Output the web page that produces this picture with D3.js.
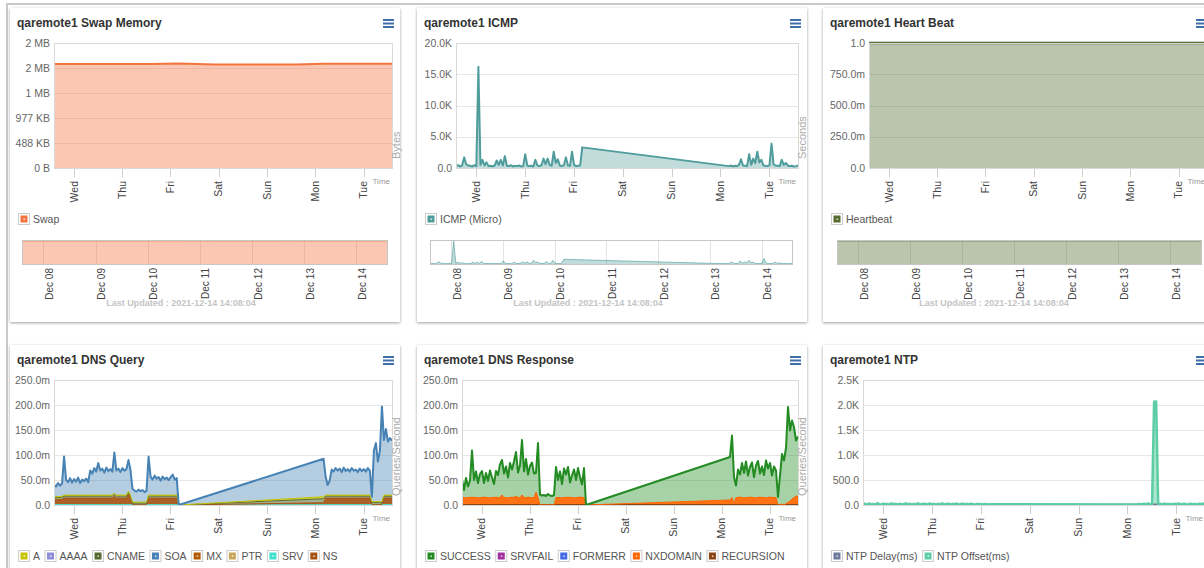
<!DOCTYPE html>
<html>
<head>
<meta charset="utf-8">
<script src="https://cdn.jsdelivr.net/npm/d3@7"></script>
<style>
  body { margin: 0; background: #fff; }
  svg { display: block; font-family: "Liberation Sans", Arial, sans-serif; }
  .title { font-size: 12px; font-weight: bold; fill: #333; }
  .ylab { font-size: 10.5px; fill: #666; }
  .xlab { font-size: 10.5px; fill: #444; }
  .navlab { font-size: 10px; fill: #444; }
  .legend { font-size: 10.5px; fill: #555; }
  .axtitle { font-size: 11px; fill: #aaa; }
  .timelab { font-size: 8px; fill: #999; }
  .updated { font-size: 9px; font-weight: bold; fill: #c4c4c4; }
</style>
</head>
<body>
<script>
var width = 1204, height = 568;

// every chart shows the last week up to the last update
var startTime = new Date(2021, 11, 7, 14, 8, 4),
    endTime = new Date(2021, 11, 14, 14, 8, 4);

// sample times in hours after startTime (data is missing between Fri 04:00 and Mon 04:00)
var sampleHours = [
  0, 1, 2, 3, 4, 5, 6, 7, 8, 9,
  10, 11, 12, 13, 14, 15, 16, 17, 18, 19,
  20, 21, 22, 23, 24, 25, 26, 27, 28, 29,
  30, 31, 32, 33, 34, 35, 36, 37, 38, 39,
  40, 41, 42, 43, 44, 45, 46, 47, 48, 49,
  50, 51, 52, 53, 54, 55, 56, 57, 58, 59,
  60, 61, 62, 134, 135, 136, 137, 138, 139, 140,
  141, 142, 143, 144, 145, 146, 147, 148, 149, 150,
  151, 152, 153, 154, 155, 156, 157, 158, 159, 160,
  161, 162, 163, 164, 165, 166, 167, 168
];

// swap memory (bytes)
var swapHours = [0, 24, 48, 62, 80, 100, 120, 134, 150, 168];
var swapValues = [2080000, 2081000, 2079000, 2090000, 2072000, 2071000, 2072000, 2084000, 2085000, 2084000];

// heart beat
var hbHours = [0, 24, 48, 62, 134, 168];
var hbValues = [1, 1, 1, 1, 1, 1];

// ICMP (micro seconds)
var icmpValues = [
  300, 450, 250, 400, 1700, 600, 400, 350, 250, 450,
  300, 16200, 500, 1300, 400, 900, 300, 350, 250, 400,
  1200, 500, 1300, 400, 1900, 350, 300, 450, 250, 350,
  300, 400, 250, 300, 2200, 400, 300, 350, 250, 1300,
  400, 300, 450, 1500, 600, 1500, 500, 350, 2600, 800,
  1400, 400, 300, 450, 1700, 400, 350, 2600, 500, 300,
  350, 400, 3300, 300, 400, 250, 350, 300, 500, 1400,
  400, 350, 300, 2200, 500, 1500, 800, 2600, 900, 1300,
  400, 350, 300, 450, 3900, 600, 400, 350, 300, 1300,
  500, 800, 400, 300, 350, 250, 300, 400
];

// DNS query, milli queries / second
var dnsSOA = [
  24, 20, 27, 22, 26, 77, 31, 26, 34, 25,
  32, 27, 35, 24, 31, 28, 33, 26, 49, 43,
  54, 47, 64, 49, 53, 45, 55, 48, 52, 47,
  81, 49, 53, 46, 54, 49, 52, 62, 51, 27,
  23, 21, 25, 22, 24, 20, 23, 77, 37, 31,
  39, 33, 36, 29, 37, 32, 35, 30, 36, 41,
  31, 34, 0, 76, 37, 20, 29, 51, 47, 54,
  49, 53, 46, 55, 48, 52, 47, 54, 49, 51,
  46, 53, 48, 52, 47, 54, 49, 10, 102, 117,
  80, 102, 190, 110, 132, 107, 114, 109
];
var dnsA = [
  2, 2, 2, 2, 2, 2, 2, 2, 2, 2,
  2, 2, 2, 2, 2, 2, 2, 2, 2, 2,
  2, 2, 2, 2, 2, 2, 2, 2, 2, 2,
  2, 2, 2, 2, 2, 2, 2, 2, 2, 2,
  2, 2, 2, 2, 2, 2, 2, 2, 2, 2,
  2, 2, 2, 2, 2, 2, 2, 2, 2, 2,
  2, 2, 0, 4, 2, 2, 2, 2, 2, 2,
  2, 2, 2, 2, 2, 2, 2, 2, 2, 2,
  2, 2, 2, 2, 2, 2, 2, 2, 2, 2,
  2, 2, 2, 2, 2, 2, 2, 2
];
var dnsCNAME = [
  4, 4, 4, 4, 4, 4, 4, 4, 4, 4,
  4, 4, 4, 4, 4, 4, 4, 4, 4, 4,
  4, 4, 4, 4, 4, 4, 4, 4, 4, 4,
  4, 4, 4, 4, 4, 4, 4, 4, 4, 3,
  3, 3, 3, 3, 3, 3, 3, 4, 4, 4,
  4, 4, 4, 4, 4, 4, 4, 4, 4, 4,
  4, 4, 0, 8, 4, 4, 4, 4, 4, 4,
  4, 4, 4, 4, 4, 4, 4, 4, 4, 4,
  4, 4, 4, 4, 4, 4, 4, 4, 4, 4,
  4, 4, 4, 4, 4, 4, 4, 4
];
var dnsNS = [
  10, 10, 10, 10, 10, 13, 13, 13, 13, 13,
  13, 13, 13, 13, 13, 13, 13, 13, 13, 13,
  13, 13, 13, 13, 13, 13, 13, 13, 13, 13,
  17, 13, 13, 13, 13, 13, 13, 21, 13, 0,
  0, 0, 0, 0, 0, 0, 0, 13, 13, 13,
  13, 13, 13, 13, 13, 13, 13, 13, 13, 13,
  13, 13, 0, 4, 13, 13, 13, 13, 13, 13,
  13, 13, 13, 13, 13, 13, 13, 13, 13, 13,
  13, 13, 13, 13, 13, 13, 13, 0, 0, 0,
  0, 0, 0, 13, 13, 13, 13, 13
];
var dnsSRV = [
  0.8, 0.8, 0.8, 0.8, 0.8, 0.8, 0.8, 0.8, 0.8, 0.8,
  0.8, 0.8, 0.8, 0.8, 0.8, 0.8, 0.8, 0.8, 0.8, 0.8,
  0.8, 0.8, 0.8, 0.8, 0.8, 0.8, 0.8, 0.8, 0.8, 0.8,
  0.8, 0.8, 0.8, 0.8, 0.8, 0.8, 0.8, 0.8, 0.8, 0.8,
  0.8, 0.8, 0.8, 0.8, 0.8, 0.8, 0.8, 0.8, 0.8, 0.8,
  0.8, 0.8, 0.8, 0.8, 0.8, 0.8, 0.8, 0.8, 0.8, 0.8,
  0.8, 0.8, 0, 0.5, 0.8, 0.8, 0.8, 0.8, 0.8, 0.8,
  0.8, 0.8, 0.8, 0.8, 0.8, 0.8, 0.8, 0.8, 0.8, 0.8,
  0.8, 0.8, 0.8, 0.8, 0.8, 0.8, 0.8, 0.8, 0.8, 0.8,
  0.8, 0.8, 0.8, 0.8, 0.8, 0.8, 0.8, 0.8
];
var dnsAAAA = [], dnsMX = [], dnsPTR = [];

// DNS response, milli responses / second
var respSUCCESS = [
  36, 15, 40, 22, 34, 93, 35, 52, 30, 47,
  53, 28, 49, 33, 55, 40, 27, 52, 45, 66,
  70, 48, 62, 41, 69, 55, 72, 88, 50, 64,
  110, 52, 77, 45, 63, 70, 49, 38, 109, 21,
  19, 20, 18, 22, 19, 18, 20, 61, 35, 52,
  28, 58, 46, 60, 30, 44, 57, 35, 59, 40,
  26, 59, 0, 86, 124, 53, 24, 56, 45, 69,
  50, 72, 44, 60, 70, 41, 65, 73, 47, 62,
  45, 75, 58, 68, 44, 62, 54, 16, 59, 100,
  89, 111, 191, 141, 157, 141, 111, 120
];
var respNXDOMAIN = [
  15, 15, 14, 15, 15, 16, 15, 15, 14, 15,
  15, 16, 15, 15, 14, 15, 15, 16, 15, 15,
  20, 15, 15, 14, 15, 16, 15, 18, 15, 15,
  20, 15, 15, 16, 15, 15, 14, 26, 15, 0,
  0, 0, 0, 0, 0, 0, 0, 15, 15, 15,
  14, 15, 15, 16, 15, 15, 14, 15, 15, 16,
  15, 15, 0, 10, 15, 3, 15, 15, 16, 15,
  14, 15, 15, 16, 15, 15, 14, 15, 16, 15,
  15, 14, 15, 16, 15, 15, 15, 0, 0, 2,
  0, 3, 5, 8, 12, 15, 18, 17
];
var respRECURSION = [
  0, 0, 0, 0, 0, 0, 0, 0, 0, 0,
  0, 0, 0, 0, 0, 0, 0, 0, 0, 0,
  0, 0, 0, 0, 0, 0, 0, 0, 0, 0,
  0, 0, 0, 0, 0, 0, 0, 0, 0, 0,
  0, 0, 0, 0, 0, 0, 0, 0, 0, 0,
  0, 0, 0, 0, 0, 0, 0, 0, 0, 0,
  0, 0, 0, 0, 0, 0, 0, 0, 0, 0,
  0, 0, 0, 0, 0, 0, 0, 0, 0, 0,
  0, 0, 0, 0, 0, 0, 0, 0, 0, 0,
  0, 0, 0, 0, 0, 0, 0, 0
];
var respSRVFAIL = [], respFORMERR = [];

// NTP (ms)
var ntpOffset = [
  12, 25, 8, 30, 15, 22, 10, 35, 18, 9,
  28, 14, 20, 11, 32, 16, 24, 9, 27, 13,
  19, 30, 12, 25, 8, 22, 16, 34, 11, 20,
  26, 10, 18, 29, 14, 21, 9, 24, 17, 31,
  12, 20, 27, 10, 23, 15, 30, 8, 19, 25,
  14, 22, 11, 28, 16, 9, 24, 13, 20, 10,
  18, 12, 15, 10, 14, 22, 9, 26, 12, 30,
  16, 12, 2065, 2070, 18, 25, 11, 28, 14, 20,
  22, 9, 26, 15, 31, 12, 19, 24, 10, 17,
  28, 13, 21, 9, 25, 16, 30, 12
];
var ntpDelay = [
  10, 12, 9, 11, 13, 10, 8, 12, 11, 9,
  12, 10, 11, 9, 13, 10, 12, 11, 8, 10,
  11, 13, 9, 10, 12, 11, 10, 9, 12, 13,
  10, 9, 11, 12, 10, 13, 9, 11, 10, 12,
  11, 10, 12, 9, 11, 13, 10, 12, 11, 9,
  13, 11, 10, 12, 9, 11, 10, 13, 12, 10,
  11, 9, 10, 12, 10, 11, 13, 9, 12, 10,
  11, 12, 14, 13, 10, 12, 9, 11, 13, 10,
  12, 10, 11, 9, 13, 10, 12, 11, 10, 12,
  9, 11, 13, 10, 12, 11, 9, 10
];

function fmtSI(v) {
  if (v === 0) return "0.0";
  if (v >= 1000) return (v / 1000).toFixed(1) + "K";
  if (v >= 1) return v.toFixed(1);
  return (v * 1000).toFixed(1) + "m";
}
function fmtBytes(v) {
  if (v >= 1048576) return Math.round(v / 1048576) + " MB";
  if (v >= 1024) return Math.round(v / 1024) + " KB";
  return v + " B";
}

var charts = [
  { title: "qaremote1 Swap Memory", col: 0, row: 0, plotLeft: 44, plotRight: 382,
    yMax: 2500000, yStep: 500000, format: fmtBytes, yTitle: "Bytes", nav: [12, 377],
    series: [{ name: "Swap", color: "#f5743e", hours: swapHours, values: swapValues, lineWidth: 2 }] },
  { title: "qaremote1 ICMP", col: 1, row: 0, plotLeft: 39, plotRight: 381,
    yMax: 20000, yStep: 5000, format: fmtSI, yTitle: "Seconds", nav: [13, 375],
    series: [{ name: "ICMP (Micro)", color: "#4f9c9c", hours: sampleHours, values: icmpValues, fillOpacity: 0.35, lineWidth: 2 }] },
  { title: "qaremote1 Heart Beat", col: 2, row: 0, plotLeft: 46, plotRight: 384,
    yMax: 1, yStep: 0.25, format: fmtSI, yTitle: null, nav: [14, 378],
    series: [{ name: "Heartbeat", color: "#556b2f", hours: hbHours, values: hbValues, lineWidth: 2.5 }] },
  { title: "qaremote1 DNS Query", col: 0, row: 1, plotLeft: 44, plotRight: 382,
    yMax: 0.25, yStep: 0.05, format: fmtSI, yTitle: "Queries/Second", valueScale: 0.001,
    stack: ["SRV", "NS", "MX", "PTR", "CNAME", "AAAA", "A", "SOA"],
    series: [
      { name: "A", color: "#c4c400", values: dnsA, fillOpacity: 0.75 },
      { name: "AAAA", color: "#8c8cd9", values: dnsAAAA },
      { name: "CNAME", color: "#556b2f", values: dnsCNAME, fillOpacity: 0.55 },
      { name: "SOA", color: "#4682b4", values: dnsSOA, lineWidth: 2 },
      { name: "MX", color: "#b35900", values: dnsMX },
      { name: "PTR", color: "#c9a55c", values: dnsPTR },
      { name: "SRV", color: "#40e0d0", values: dnsSRV, fillOpacity: 0.6 },
      { name: "NS", color: "#a65213", values: dnsNS, fillOpacity: 0.92 }
    ] },
  { title: "qaremote1 DNS Response", col: 1, row: 1, plotLeft: 45, plotRight: 381,
    yMax: 0.25, yStep: 0.05, format: fmtSI, yTitle: "Queries/Second", valueScale: 0.001,
    stack: ["RECURSION", "FORMERR", "SRVFAIL", "NXDOMAIN", "SUCCESS"],
    series: [
      { name: "SUCCESS", color: "#228b22", values: respSUCCESS, lineWidth: 2 },
      { name: "SRVFAIL", color: "#a02fa0", values: respSRVFAIL },
      { name: "FORMERR", color: "#4169e1", values: respFORMERR },
      { name: "NXDOMAIN", color: "#ff6600", values: respNXDOMAIN, fillOpacity: 0.92 },
      { name: "RECURSION", color: "#8b4513", values: respRECURSION, lineWidth: 2 }
    ] },
  { title: "qaremote1 NTP", col: 2, row: 1, plotLeft: 40, plotRight: 382,
    yMax: 2500, yStep: 500, format: fmtSI, yTitle: null,
    series: [
      { name: "NTP Delay(ms)", color: "#6b7b99", hours: sampleHours, values: ntpDelay, lineWidth: 1.5 },
      { name: "NTP Offset(ms)", color: "#5ccda4", hours: sampleHours, values: ntpOffset, lineWidth: 2.5, fillOpacity: 0.5 }
    ] }
];

var panelX = [10, 417, 823], panelY = [8, 345], panelW = 390, panelH = 314;
var plotTop = 35, plotBottom = 160;
var navTop = 232, navBottom = 256;

function toTime(h) { return new Date(+startTime + h * 36e5); }

var svg = d3.select("body").append("svg")
    .attr("width", width)
    .attr("height", height);

var defs = svg.append("defs");
defs.append("filter").attr("id", "shadow")
    .attr("x", "-5%").attr("y", "-5%").attr("width", "110%").attr("height", "112%")
  .append("feDropShadow")
    .attr("dx", 0).attr("dy", 1).attr("stdDeviation", 1.6)
    .attr("flood-color", "#000").attr("flood-opacity", 0.38);

// page frame
svg.append("path")
    .attr("d", "M7,568V4H1204")
    .attr("fill", "none")
    .attr("stroke", "#c9c9c9")
    .attr("stroke-width", 2);

var dayTicks = d3.timeDay.range(d3.timeDay.ceil(startTime), endTime);

// build [{s, pts:[{t,y0,y1}]}] bottom to top
function buildLayers(c) {
  var k = c.valueScale || 1;
  var drawn = c.series.filter(function(s) { return s.values.length; });
  if (!c.stack) {
    return drawn.map(function(s) {
      return { s: s, pts: s.values.map(function(v, i) {
        return { t: toTime(s.hours[i]), y0: 0, y1: v * k };
      }) };
    });
  }
  var byName = {};
  drawn.forEach(function(s) { byName[s.name] = s; });
  var keys = c.stack.filter(function(n) { return byName[n]; });
  var rows = sampleHours.map(function(h, i) {
    var r = { t: toTime(h) };
    keys.forEach(function(n) { r[n] = byName[n].values[i] * k; });
    return r;
  });
  return d3.stack().keys(keys)(rows).map(function(layer, j) {
    return { s: byName[keys[j]], pts: layer.map(function(d) {
      return { t: d.data.t, y0: d[0], y1: d[1] };
    }) };
  });
}

charts.forEach(function(c, ci) {
  var g = svg.append("g")
      .attr("transform", "translate(" + panelX[c.col] + "," + panelY[c.row] + ")");

  g.append("rect")
      .attr("width", panelW)
      .attr("height", panelH)
      .attr("fill", "#fff")
      .attr("filter", "url(#shadow)");

  g.append("text").attr("class", "title").attr("x", 7).attr("y", 19).text(c.title);

  // menu button
  [11, 14.5, 18].forEach(function(yy) {
    g.append("rect").attr("x", 373).attr("y", yy).attr("width", 11).attr("height", 2)
        .attr("fill", "#3f6fa8");
  });

  var x = d3.scaleTime().domain([startTime, endTime]).range([c.plotLeft, c.plotRight]);
  var y = d3.scaleLinear().domain([0, c.yMax]).range([plotBottom, plotTop]);
  var yTicks = d3.range(0, c.yMax + c.yStep / 2, c.yStep);

  // grid
  g.append("g").selectAll("line")
    .data(yTicks)
    .enter().append("line")
      .attr("x1", c.plotLeft).attr("x2", c.plotRight)
      .attr("y1", function(d) { return Math.round(y(d)) + 0.5; })
      .attr("y2", function(d) { return Math.round(y(d)) + 0.5; })
      .attr("stroke", "#e6e6e6");

  g.append("g").selectAll("text")
    .data(yTicks)
    .enter().append("text")
      .attr("class", "ylab")
      .attr("x", c.plotLeft - 4)
      .attr("y", function(d) { return y(d); })
      .attr("dy", "0.35em")
      .attr("text-anchor", "end")
      .text(c.format);

  // series
  g.append("clipPath").attr("id", "clip" + ci)
    .append("rect")
      .attr("x", c.plotLeft).attr("y", plotTop - 2)
      .attr("width", c.plotRight - c.plotLeft).attr("height", plotBottom - plotTop + 4);

  var plot = g.append("g").attr("clip-path", "url(#clip" + ci + ")");
  var area = d3.area()
      .x(function(d) { return x(d.t); })
      .y0(function(d) { return y(d.y0); })
      .y1(function(d) { return y(d.y1); });
  var line = d3.line()
      .x(function(d) { return x(d.t); })
      .y(function(d) { return y(d.y1); });

  var layers = buildLayers(c);
  layers.forEach(function(l) {
    plot.append("path")
        .attr("d", area(l.pts))
        .attr("fill", l.s.color)
        .attr("fill-opacity", l.s.fillOpacity || 0.4);
  });
  layers.forEach(function(l) {
    plot.append("path")
        .attr("d", line(l.pts))
        .attr("fill", "none")
        .attr("stroke", l.s.color)
        .attr("stroke-width", l.s.lineWidth || 1)
        .attr("stroke-linejoin", "round");
  });

  g.append("rect")
      .attr("x", c.plotLeft + 0.5).attr("y", plotTop + 0.5)
      .attr("width", c.plotRight - c.plotLeft).attr("height", plotBottom - plotTop)
      .attr("fill", "none")
      .attr("stroke", "#d9d9d9");

  // x axis
  g.append("g").selectAll("line")
    .data(dayTicks)
    .enter().append("line")
      .attr("x1", function(d) { return Math.round(x(d)) + 0.5; })
      .attr("x2", function(d) { return Math.round(x(d)) + 0.5; })
      .attr("y1", plotBottom + 1).attr("y2", plotBottom + 9)
      .attr("stroke", "#ccc");

  g.append("g").selectAll("text")
    .data(dayTicks)
    .enter().append("text")
      .attr("class", "xlab")
      .attr("transform", function(d) { return "translate(" + x(d) + "," + (plotBottom + 13) + ")rotate(-90)"; })
      .attr("dy", "0.35em")
      .attr("text-anchor", "end")
      .text(d3.timeFormat("%a"));

  g.append("text").attr("class", "timelab")
      .attr("x", c.plotRight - 2).attr("y", plotBottom + 16)
      .attr("text-anchor", "end")
      .text("Time");

  if (c.yTitle) {
    g.append("text").attr("class", "axtitle")
        .attr("transform", "translate(" + (c.plotRight + 8) + "," + (plotBottom - 9) + ")rotate(-90)")
        .text(c.yTitle);
  }

  // legend
  var lx = 8, ly = 211;
  c.series.forEach(function(s) {
    var item = g.append("g").attr("transform", "translate(" + lx + "," + ly + ")");
    item.append("rect").attr("x", 0.5).attr("y", -5.5).attr("width", 11).attr("height", 11)
        .attr("fill", "#fff").attr("stroke", "#ccc");
    item.append("rect").attr("x", 2.5).attr("y", -3.5).attr("width", 7).attr("height", 7)
        .attr("fill", s.color);
    item.append("rect").attr("x", 5.5).attr("y", -0.5).attr("width", 1.5).attr("height", 1.5)
        .attr("fill", "#fff").attr("opacity", 0.8);
    var t = item.append("text").attr("class", "legend")
        .attr("x", 15).attr("y", 0).attr("dy", "0.35em")
        .text(s.name);
    lx += 15 + t.node().getComputedTextLength() + 4.5;
  });

  // navigator
  if (c.nav) {
    var nx = d3.scaleTime().domain([startTime, endTime]).range(c.nav);
    var s0 = layers[0];
    var ny = d3.scaleLinear()
        .domain([0, d3.max(s0.pts, function(d) { return d.y1; })])
        .range([navBottom, navTop + 1]);

    g.append("g").selectAll("line")
      .data(dayTicks)
      .enter().append("line")
        .attr("x1", function(d) { return Math.round(nx(d)) + 0.5; })
        .attr("x2", function(d) { return Math.round(nx(d)) + 0.5; })
        .attr("y1", navTop).attr("y2", navBottom)
        .attr("stroke", "#e3e3e3");

    g.append("path")
        .attr("d", d3.area()
          .x(function(d) { return nx(d.t); })
          .y0(navBottom)
          .y1(function(d) { return ny(d.y1); })(s0.pts))
        .attr("fill", s0.s.color)
        .attr("fill-opacity", s0.s.fillOpacity || 0.4);
    g.append("path")
        .attr("d", d3.line()
          .x(function(d) { return nx(d.t); })
          .y(function(d) { return ny(d.y1); })(s0.pts))
        .attr("fill", "none")
        .attr("stroke", s0.s.color)
        .attr("stroke-opacity", 0.6);

    g.append("rect")
        .attr("x", c.nav[0] + 0.5).attr("y", navTop + 0.5)
        .attr("width", c.nav[1] - c.nav[0]).attr("height", navBottom - navTop)
        .attr("fill", "none").attr("stroke", "#c6c6c6");

    g.append("text").attr("class", "updated")
        .attr("x", 171).attr("y", 298)
        .attr("text-anchor", "middle")
        .text("Last Updated : " + d3.timeFormat("%Y-%m-%d %H:%M:%S")(endTime));

    g.append("g").selectAll("text")
      .data(dayTicks)
      .enter().append("text")
        .attr("class", "navlab")
        .attr("transform", function(d) { return "translate(" + (nx(d) + 6) + "," + (navBottom + 4) + ")rotate(-90)"; })
        .attr("dy", "0.35em")
        .attr("text-anchor", "end")
        .text(d3.timeFormat("%b %d"));
  }
});
</script>
</body>
</html>
